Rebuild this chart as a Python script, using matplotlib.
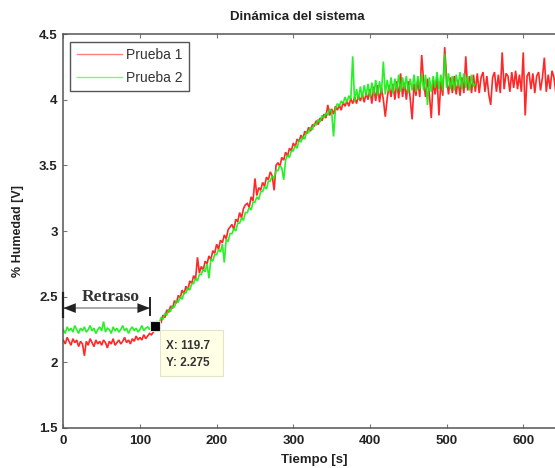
import numpy as np
import matplotlib
matplotlib.use("Agg")
import matplotlib.pyplot as plt
from matplotlib.patches import Rectangle
from matplotlib.transforms import IdentityTransform

# ---- measured humidity-sensor output, hundredths of a volt, one sample every 2.5 s ----
paso_s = 2.5

prueba1 = [
    217, 214, 219, 216,  213, 218, 215, 217,  212, 216, 214, 205,  216, 213, 218, 215,   # 0-37.5
    212, 217, 214, 216,  213, 217, 215, 211,  216, 214, 218, 213,  215, 217, 214, 216,   # 40-77.5
    219, 215, 217, 214,  218, 216, 220, 217,  219, 217, 221, 218,  220, 222, 221, 223,   # 80-117.5
    225, 226, 231, 230,  236, 234, 240, 238,  243, 241, 247, 245,  251, 249, 255, 252,   # 120-157.5
    258, 255, 262, 260,  266, 263, 280, 268,  273, 270, 277, 275,  281, 278, 285, 283,   # 160-197.5
    290, 286, 293, 291,  297, 294, 301, 303,  305, 301, 309, 307,  314, 310, 317, 320,   # 200-237.5
    321, 318, 326, 323,  340, 327, 333, 331,  337, 334, 341, 339,  345, 342, 331, 350,   # 240-277.5
    352, 349, 356, 354,  360, 357, 363, 361,  367, 364, 370, 368,  373, 370, 376, 374,   # 280-317.5
    379, 376, 381, 380,  384, 381, 386, 384,  389, 386, 396, 388,  393, 389, 395, 392,   # 320-357.5
    396, 392, 398, 395,  399, 395, 401, 397,  402, 397, 403, 399,  404, 398, 405, 400,   # 360-397.5
    408, 397, 410, 399,  411, 398, 409, 400,  387, 401, 411, 402,  412, 400, 414, 401,   # 400-437.5
    420, 402, 413, 400,  414, 401, 385, 412,  403, 415, 402, 434,  414, 402, 416, 404,   # 440-477.5
    386, 415, 404, 417,  388, 414, 403, 440,  416, 404, 417, 405,  418, 404, 415, 403,   # 480-517.5
    417, 405, 433, 407,  418, 405, 419, 406,  420, 405, 417, 421,  406, 418, 404, 396,   # 520-557.5
    417, 421, 406, 419,  405, 436, 408, 420,  418, 406, 421, 409,  422, 408, 419, 406,   # 560-597.5
    436, 388, 418, 421,  408, 420, 405, 418,  421, 407, 417, 432,  406, 419, 408, 422,   # 600-637.5
    417, 405, 420, 408,  416,                                                          # 640-650
]

prueba2 = [
    225, 222, 227, 224,  226, 223, 228, 225,  222, 226, 224, 227,  223, 225, 228, 224,   # 0-37.5
    226, 222, 225, 227,  224, 231, 223, 226,  225, 222, 227, 224,  226, 223, 225, 228,   # 40-77.5
    224, 226, 222, 225,  227, 224, 226, 223,  225, 228, 224, 226,  227, 225, 228, 227,   # 80-117.5
    227, 231, 230, 234,  233, 237, 236, 240,  239, 243, 242, 247,  246, 250, 248, 253,   # 120-157.5
    253, 257, 255, 260,  260, 264, 262, 267,  267, 271, 269, 275,  264, 279, 277, 282,   # 160-197.5
    282, 286, 284, 290,  276, 294, 292, 298,  298, 302, 300, 306,  306, 310, 308, 314,   # 200-237.5
    314, 318, 316, 322,  322, 326, 324, 330,  330, 334, 332, 338,  338, 342, 340, 346,   # 240-277.5
    346, 350, 348, 339,  354, 358, 356, 361,  361, 365, 363, 369,  368, 372, 370, 376,   # 280-317.5
    375, 379, 377, 382,  381, 385, 383, 388,  386, 390, 388, 393,  391, 372, 393, 397,   # 320-357.5
    395, 399, 397, 402,  398, 403, 400, 433,  398, 408, 400, 410,  401, 411, 403, 412,   # 360-397.5
    402, 413, 404, 415,  403, 414, 405, 429,  404, 415, 406, 417,  405, 416, 407, 419,   # 400-437.5
    406, 417, 408, 418,  405, 416, 407, 419,  406, 418, 408, 420,  407, 419, 396, 417,   # 440-477.5
    406, 418, 409, 421,  408, 419, 407, 435,  409, 420, 408, 418,  407, 419, 410, 421,   # 480-517.5
    408, 420, 409, 418,  407, 419, 410, 412,                                           # 520-537.5
]

series_nombres = ["Prueba 1", "Prueba 2"]
series_colores = ["#ff1414", "#14f014"]

x_ticks = [0, 100, 200, 300, 400, 500, 600]
y_ticks = [1.5, 2, 2.5, 3, 3.5, 4, 4.5]
x_lim = (0, 650)
y_lim = (1.5, 4.5)

# data tip and delay marker
tip_x, tip_y = 119.7, 2.275
retraso_ini, retraso_fin = 0, 113
retraso_nivel = 2.413

# ---- figure ----
W, H = 555, 468
fig = plt.figure(figsize=(W / 100, H / 100), dpi=100)
fig.patch.set_facecolor("white")

ax_l, ax_r, ax_t, ax_b = 63.3, 561.6, 34, 428
ax = fig.add_axes([ax_l / W, 1 - ax_b / H, (ax_r - ax_l) / W, (ax_b - ax_t) / H])

sans = "Liberation Sans"

for vals, nombre, color in zip([prueba1, prueba2], series_nombres, series_colores):
    v = np.asarray(vals, dtype=float) / 100.0
    t = np.arange(len(v)) * paso_s
    ax.plot(t, v, color=color, lw=1.2, label=nombre, alpha=0.92, solid_joinstyle="miter")

ax.set_xlim(*x_lim)
ax.set_ylim(*y_lim)
ax.set_xticks(x_ticks)
ax.set_yticks(y_ticks)
ax.set_xticklabels([f"{v:g}" for v in x_ticks])
ax.set_yticklabels([f"{v:g}" for v in y_ticks])
ax.tick_params(direction="in", length=3, width=0.8, color="#777777",
               top=True, right=True, labelsize=9.5, labelcolor="#222222")
ax.tick_params(axis="x", pad=5)
ax.tick_params(axis="y", pad=4)
for lab in ax.get_xticklabels() + ax.get_yticklabels():
    lab.set_fontfamily(sans)
    lab.set_fontweight("bold")
for sp in ax.spines.values():
    sp.set_color("#555555")
    sp.set_linewidth(1.1)

# legend
leg = ax.legend(loc="upper left", bbox_to_anchor=(7 / (ax_r - ax_l), 1 - 8 / (ax_b - ax_t)),
                borderaxespad=0, fancybox=False, framealpha=1, edgecolor="#555555",
                prop={"family": sans, "size": 10}, handlelength=3.25, handletextpad=0.3,
                labelspacing=0.6, borderpad=0.45)
leg.get_frame().set_linewidth(1.0)
for ln in leg.get_lines():
    ln.set_linewidth(1.0)
    ln.set_alpha(0.55)
for txt in leg.get_texts():
    txt.set_color("#333333")

# delay arrow
ax.plot([retraso_ini, retraso_fin], [retraso_nivel, retraso_nivel], color="#9a9a9a", lw=1.2, zorder=4)
for x_head, x_tail in [(retraso_ini, retraso_ini + 20), (retraso_fin, retraso_fin - 20)]:
    ax.annotate("", xy=(x_head, retraso_nivel), xytext=(x_tail, retraso_nivel),
                arrowprops=dict(arrowstyle="-|>,head_length=0.9,head_width=0.35",
                                color="#222222", lw=0, shrinkA=0, shrinkB=0), zorder=5)
ax.plot([retraso_ini, retraso_ini], [2.345, 2.525], color="#222222", lw=1.6, zorder=5,
        clip_on=False)
ax.plot([retraso_fin, retraso_fin], [2.36, 2.49], color="#222222", lw=1.4, zorder=5)
ax.text((retraso_ini + retraso_fin) / 2 + 5, 2.50, "Retraso", family="Liberation Serif",
        fontweight="bold", fontsize=12.5, color="#333333", ha="center", va="center", zorder=6)

# data tip: marker, then a box anchored just below-right of it (display pixels)
ax.plot([tip_x], [tip_y], marker="s", ms=7, mfc="black", mec="#dddddd", mew=0.8, zorder=7)
mx, my = ax.transData.transform((tip_x, tip_y))
box_l, box_t, box_w, box_h = mx + 4.5, my - 3.5, 63, 46
fig.patches.append(Rectangle((box_l, box_t - box_h), box_w, box_h, transform=IdentityTransform(),
                             facecolor="#ffffe6", edgecolor="#e4e4c8", lw=0.8, zorder=8))
for k, linea in enumerate([f"X: {tip_x:g}", f"Y: {tip_y:g}"]):
    fig.text(box_l + 6, box_t - 16 - 17 * k, linea, transform=IdentityTransform(),
             family=sans, fontweight="bold", fontsize=8.5, color="#333333",
             ha="left", va="center", zorder=9)

# titles
fig.text(297 / W, 1 - 17 / H, "Dinámica del sistema", family=sans, fontweight="bold",
         fontsize=9.5, color="#222222", ha="center", va="center")
fig.text(314 / W, 1 - 460 / H, "Tiempo [s]", family=sans, fontweight="bold",
         fontsize=9.5, color="#222222", ha="center", va="center")
fig.text(18 / W, 1 - 231 / H, "% Humedad [V]", family=sans, fontweight="bold",
         fontsize=9, color="#222222", ha="center", va="center", rotation=90)

fig.savefig("out.png", dpi=100, facecolor="white")
